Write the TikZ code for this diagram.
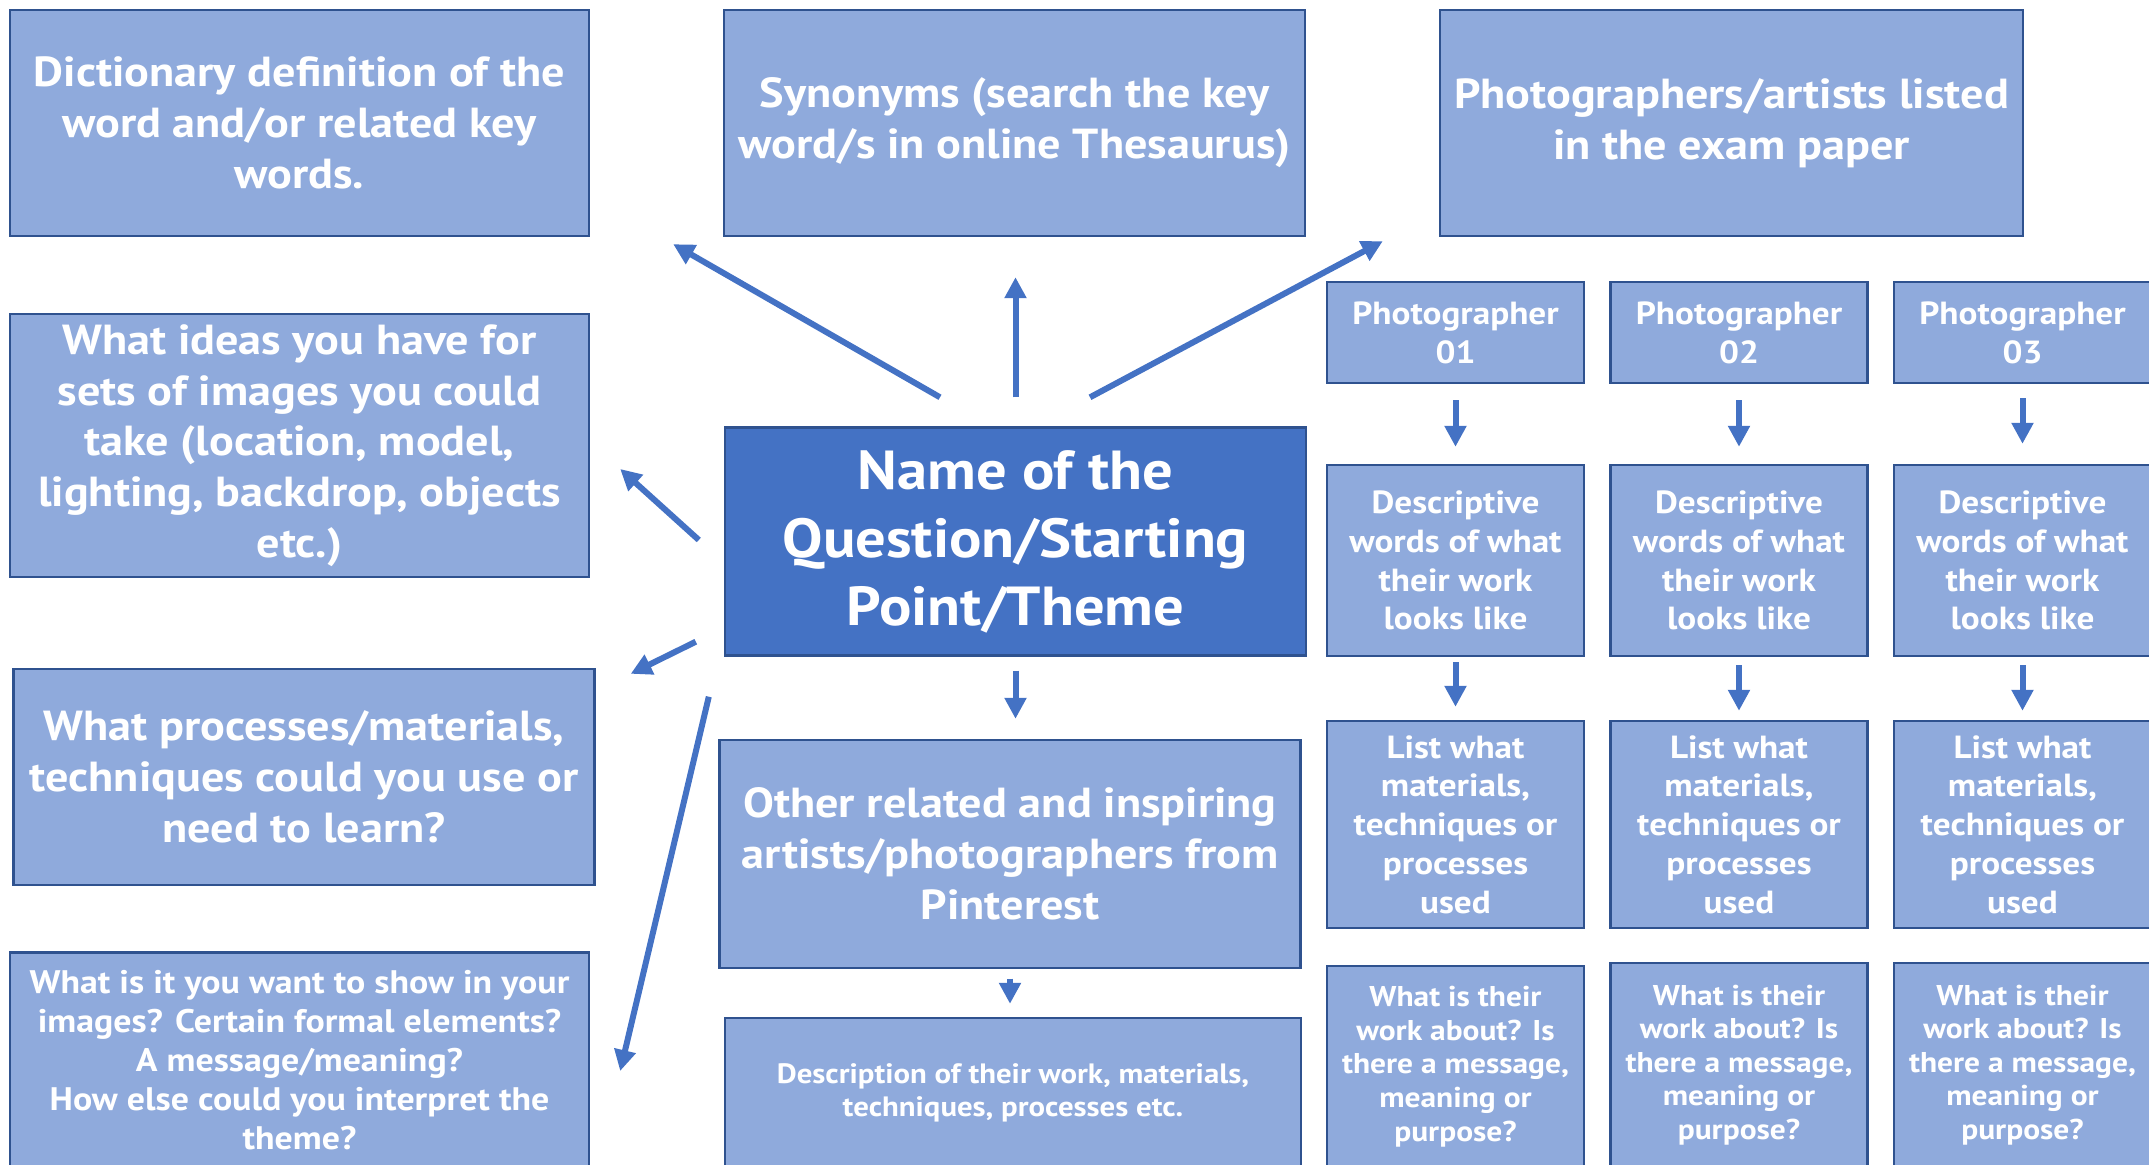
\documentclass[tikz,border=0pt]{standalone}
\usepackage{fontspec}
\setmainfont{PT Sans}[FakeStretch=1.1]
\usepackage{xcolor}
\usepackage{tikz}
\usetikzlibrary{arrows.meta, positioning, calc}
\definecolor{boxblue}{HTML}{8FAADC}
\definecolor{themeblue}{HTML}{4472C4}
\definecolor{edgeblue}{HTML}{2F528F}
\tikzstyle{topic} = [rectangle, draw=edgeblue, line width=1.2pt, fill=boxblue, text=white, align=center, inner sep=0pt, font=\bfseries\fontsize{21}{25.4}\selectfont]
\tikzstyle{theme} = [topic, fill=themeblue, font=\bfseries\fontsize{27.5}{34}\selectfont]
\tikzstyle{artist} = [topic, minimum width=128.5pt, font=\bfseries\fontsize{16}{19.4}\selectfont]
\tikzstyle{note} = [topic, font=\bfseries\fontsize{14.3}{16.8}\selectfont]
\tikzstyle{arrow} = [line width=3pt, draw=themeblue, -{Triangle[length=10.5pt, width=10.5pt]}]

\begin{document}
\begin{tikzpicture}[x=0.5pt, y=-0.5pt]
    \useasboundingbox (0,0) rectangle (2149,1165);
    \clip (0,0) rectangle (2149,1165);

    % Left column
    \node (dict) [topic, minimum width=289.5pt, minimum height=113pt] at (299.5,123) {Dictionary definition of the\\word and/or related key\\words.};
    \node (ideas) [topic, minimum width=289.5pt, minimum height=131.5pt] at (299.5,445.5) {What ideas you have for\\sets of images you could\\take (location, model,\\lighting, backdrop, objects\\etc.)};
    \node (proc) [topic, minimum width=290.5pt, minimum height=108pt] at (304,777) {What processes/materials,\\techniques could you use or\\need to learn?};
    \node (show) [topic, minimum width=289.5pt, minimum height=107.5pt, font=\bfseries\fontsize{16.3}{19.5}\selectfont] at (299.5,1060) {What is it you want to show in your\\images? Certain formal elements?\\A message/meaning?\\How else could you interpret the\\theme?};

    % Middle column
    \node (syn) [topic, minimum width=290.5pt, minimum height=113pt] at (1014.5,123) {Synonyms (search the key\\word/s in online Thesaurus)};
    \node (name) [theme, minimum width=290.5pt, minimum height=114pt] at (1015.5,541.5) {Name of the\\Question/Starting\\Point/Theme};
    \node (pin) [topic, minimum width=290.5pt, minimum height=114pt] at (1010,854) {Other related and inspiring\\artists/photographers from\\Pinterest};
    \node (about) [note, minimum width=288pt, minimum height=75pt, font=\bfseries\fontsize{14}{16.5}\selectfont] at (1013,1093) {Description of their work, materials,\\techniques, processes etc.};

    % Right side
    \node (exam) [topic, minimum width=291.5pt, minimum height=113pt] at (1731.5,123) {Photographers/artists listed\\in the exam paper};

    \node (ph1) [artist, minimum height=50.5pt] at (1455.5,332.5) {Photographer\\01};
    \node (ph2) [artist, minimum height=50.5pt] at (1739,332.5) {Photographer\\02};
    \node (ph3) [artist, minimum height=50.5pt] at (2022.5,332.5) {Photographer\\03};

    \node (desc1) [artist, minimum height=95.5pt] at (1455.5,560.5) {Descriptive\\words of what\\their work\\looks like};
    \node (desc2) [artist, minimum height=95.5pt] at (1739,560.5) {Descriptive\\words of what\\their work\\looks like};
    \node (desc3) [artist, minimum height=95.5pt] at (2022.5,560.5) {Descriptive\\words of what\\their work\\looks like};

    \node (mat1) [artist, minimum height=103.5pt] at (1455.5,824.5) {List what\\materials,\\techniques or\\processes\\used};
    \node (mat2) [artist, minimum height=103.5pt] at (1739,824.5) {List what\\materials,\\techniques or\\processes\\used};
    \node (mat3) [artist, minimum height=103.5pt] at (2022.5,824.5) {List what\\materials,\\techniques or\\processes\\used};

    \node (work1) [artist, minimum height=100.5pt, font=\bfseries\fontsize{14.3}{16.8}\selectfont] at (1455.5,1066.5) {What is their\\work about? Is\\there a message,\\meaning or\\purpose?};
    \node (work2) [artist, minimum height=102pt, font=\bfseries\fontsize{14.3}{16.8}\selectfont] at (1739,1065) {What is their\\work about? Is\\there a message,\\meaning or\\purpose?};
    \node (work3) [artist, minimum height=102pt, font=\bfseries\fontsize{14.3}{16.8}\selectfont] at (2022.5,1065) {What is their\\work about? Is\\there a message,\\meaning or\\purpose?};

    % Arrows out of the theme
    \draw [arrow] ($(name.north)+(-75.5,-29)$) -- ($(dict.south east)+(83,7)$);
    \draw [arrow] ($(name.north)+(0,-29)$) -- ($(name.north |- syn.south)+(0,40)$);
    \draw [arrow] ($(name.north)+(74.5,-29)$) -- ($(exam.south west)+(-56,4)$);
    \draw [arrow] ($(name.west)+(-25,-1.5)$) -- ($(ideas.east)+(30,23.5)$);
    \draw [arrow] ($(name.south west)+(-28,-15)$) -- ($(proc.north east)+(35,6)$);
    \draw [arrow] ($(name.south west)+(-15,40)$) -- ($(show.east)+(30,11)$);
    \draw [arrow] ($(name.south)+(0,14)$) -- ($(name.south |- pin.north)+(0,-20)$);
    \draw [arrow] ($(pin.south)+(0,9.5)$) -- ($(pin.south |- about.north)+(0,-13)$);

    % Arrows in the photographer columns
    \draw [arrow] ($(ph1.south)+(0,16)$) -- ($(desc1.north)+(0,-17)$);
    \draw [arrow] ($(ph2.south)+(0,16)$) -- ($(desc2.north)+(0,-17)$);
    \draw [arrow] ($(ph3.south)+(0,14)$) -- ($(desc3.north)+(0,-20)$);
    \draw [arrow] ($(desc1.south)+(0,5)$) -- ($(mat1.north)+(0,-13)$);
    \draw [arrow] ($(desc2.south)+(0,8)$) -- ($(mat2.north)+(0,-9)$);
    \draw [arrow] ($(desc3.south)+(0,8)$) -- ($(mat3.north)+(0,-9)$);
\end{tikzpicture}
\end{document}
